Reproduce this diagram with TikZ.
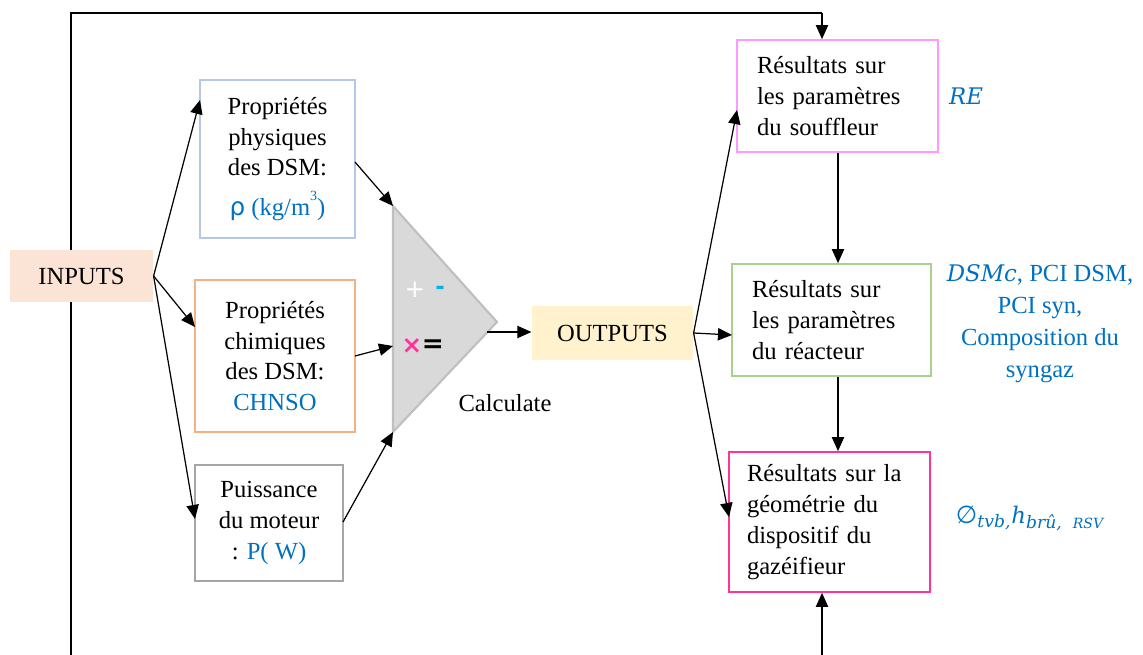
\documentclass[tikz,border=0pt]{standalone}
\usepackage{fontspec}
\setmainfont{Liberation Serif}
\newfontfamily\symf{DejaVu Sans}
\newfontfamily\mathf{DejaVu Serif}
\usetikzlibrary{arrows.meta}
\definecolor{tblue}{RGB}{0,112,192}
\definecolor{infill}{RGB}{251,228,213}
\definecolor{outfill}{RGB}{255,242,204}
\definecolor{bblue}{RGB}{180,199,231}
\definecolor{borange}{RGB}{244,177,131}
\definecolor{bgray}{RGB}{166,166,166}
\definecolor{trifill}{RGB}{217,217,217}
\definecolor{triline}{RGB}{191,191,191}
\definecolor{rviolet}{RGB}{255,153,255}
\definecolor{rgreen}{RGB}{169,209,142}
\definecolor{rmag}{RGB}{255,51,153}
\definecolor{cyanb}{RGB}{0,176,240}
\newcommand{\mvar}[1]{{\mathf\itshape\fontsize{13}{17}\selectfont #1}}
\newcommand{\msub}[1]{\textsubscript{\mathf\itshape #1}}
\tikzset{
  box/.style={draw, line width=1pt, align=center, inner sep=2pt},
  resbox/.style={draw, line width=1pt, align=left, inner xsep=0.4cm, inner ysep=2pt},
  fillbox/.style={inner sep=0pt},
  conn/.style={->, line width=0.7pt},
  lbl/.style={text=tblue}
}
\begin{document}
\begin{tikzpicture}[x=0.02cm,y=-0.02cm,
  font=\fontsize{14}{17.5}\selectfont,
  >={Triangle[length=8pt,width=7pt]}, line width=0.7pt]
\useasboundingbox (0,0) rectangle (1143,655);

% feedback loop (drawn first so that INPUTS covers it)
\coordinate (lp1) at (71,660);
\coordinate (lp2) at (71,13);
\coordinate (lp3) at (822,13);
\coordinate (lb) at (822,660);
\draw (lp1) -- (lp2) -- (lp3);

% nodes
\node[fillbox, fill=infill, minimum width=2.86cm, minimum height=1.04cm] (in) at (81.5,276) {INPUTS};

\node[box, draw=bblue, minimum width=3.1cm, minimum height=3.16cm] (b1) at (277.5,159)
  {Propriétés\\physiques\\des DSM:\\[5pt]{\color{tblue}{\symf ρ} (kg/m\raisebox{0.6em}{\footnotesize 3})}};
\node[box, draw=borange, minimum width=3.2cm, minimum height=3.04cm] (b2) at (275,356)
  {Propriétés\\chimiques\\des DSM:\\{\color{tblue}CHNSO}};
\node[box, draw=bgray, minimum width=2.96cm, minimum height=2.32cm] (b3) at (269,523)
  {Puissance\\du moteur\\: {\color{tblue}P( W)}};

% calculator triangle
\coordinate (ta) at (393,206);
\coordinate (tb) at (393,432);
\coordinate (tc) at (497,322);
\coordinate (tl) at (393,346);
\coordinate (to) at (487,332);
\draw[fill=trifill, draw=triline, line width=1.2pt, line join=miter] (ta) -- (tc) -- (tb) -- cycle;
\node[text=white, font=\symf\fontsize{14}{14}\selectfont] (plus) at (415,290) {+};
\node[text=cyanb, font=\symf\bfseries\fontsize{13}{13}\selectfont] (minus) at (440,290) {-};
\node[text=rmag, font=\symf\bfseries\fontsize{14}{14}\selectfont] (times) at (412,346) {×};
\node[text=black, font=\symf\bfseries\fontsize{15}{15}\selectfont] (eq) at (433,346) {=};
\node (calc) at (505,403) {Calculate};

\node[fillbox, fill=outfill, minimum width=3.22cm, minimum height=1.08cm] (out) at (612.5,333) {OUTPUTS};

\node[resbox, draw=rviolet, text width=3.22cm, minimum height=2.24cm] (r1) at (837.5,96)
  {Résultats sur\\les paramètres\\du souffleur};
\node[resbox, draw=rgreen, text width=3.18cm, minimum height=2.24cm] (r2) at (831.5,320)
  {Résultats sur\\les paramètres\\du réacteur};
\node[resbox, draw=rmag, text width=3.3cm, inner xsep=0.36cm, minimum height=2.8cm] (r3) at (829.5,522)
  {Résultats sur la\\géométrie du\\dispositif du\\gazéifieur};

% labels
\node[lbl] (re) at (966,96) {\mvar{RE}};
\node[lbl, align=center, font=\fontsize{14}{18.2}\selectfont] (dsm) at (1040,324)
  {\mvar{DSMc}, PCI DSM,\\PCI syn,\\Composition du\\syngaz};
\node[lbl, font=\fontsize{14}{17}\selectfont] (geo) at (1030,518)
  {{\symf ∅}\msub{tvb,}\mvar{h}\msub{brû,\ \ {\footnotesize RSV}}};

% connectors
\coordinate (t1) at (200,100);
\coordinate (t2) at (195,327);
\coordinate (t3) at (195,519);
\draw[conn] (in.east) -- (t1);
\draw[conn] (in.east) -- (t2);
\draw[conn] (in.east) -- (t3);

\coordinate (s1) at (355,162);
\coordinate (s2) at (355,356);
\coordinate (s3) at (343,522);
\draw[conn] (s1) -- (ta);
\draw[conn] (s2) -- (tl);
\draw[conn] (s3) -- (tb);

\draw[conn] (to) -- (out.west |- to);

\coordinate (u1) at (737,110);
\coordinate (u2) at (732,335);
\coordinate (u3) at (729,517);
\draw[conn] (out.east) -- (u1);
\draw[conn] (out.east) -- (u2);
\draw[conn] (out.east) -- (u3);

\draw[conn] (r1.south -| 838,0) -- (r2.north -| 838,0);
\draw[conn] (r2.south -| 838,0) -- (r3.north -| 838,0);

\draw[conn] (lp3) -- (r1.north -| lp3);
\draw[conn] (lb) -- (r3.south -| lb);
\end{tikzpicture}
\end{document}
